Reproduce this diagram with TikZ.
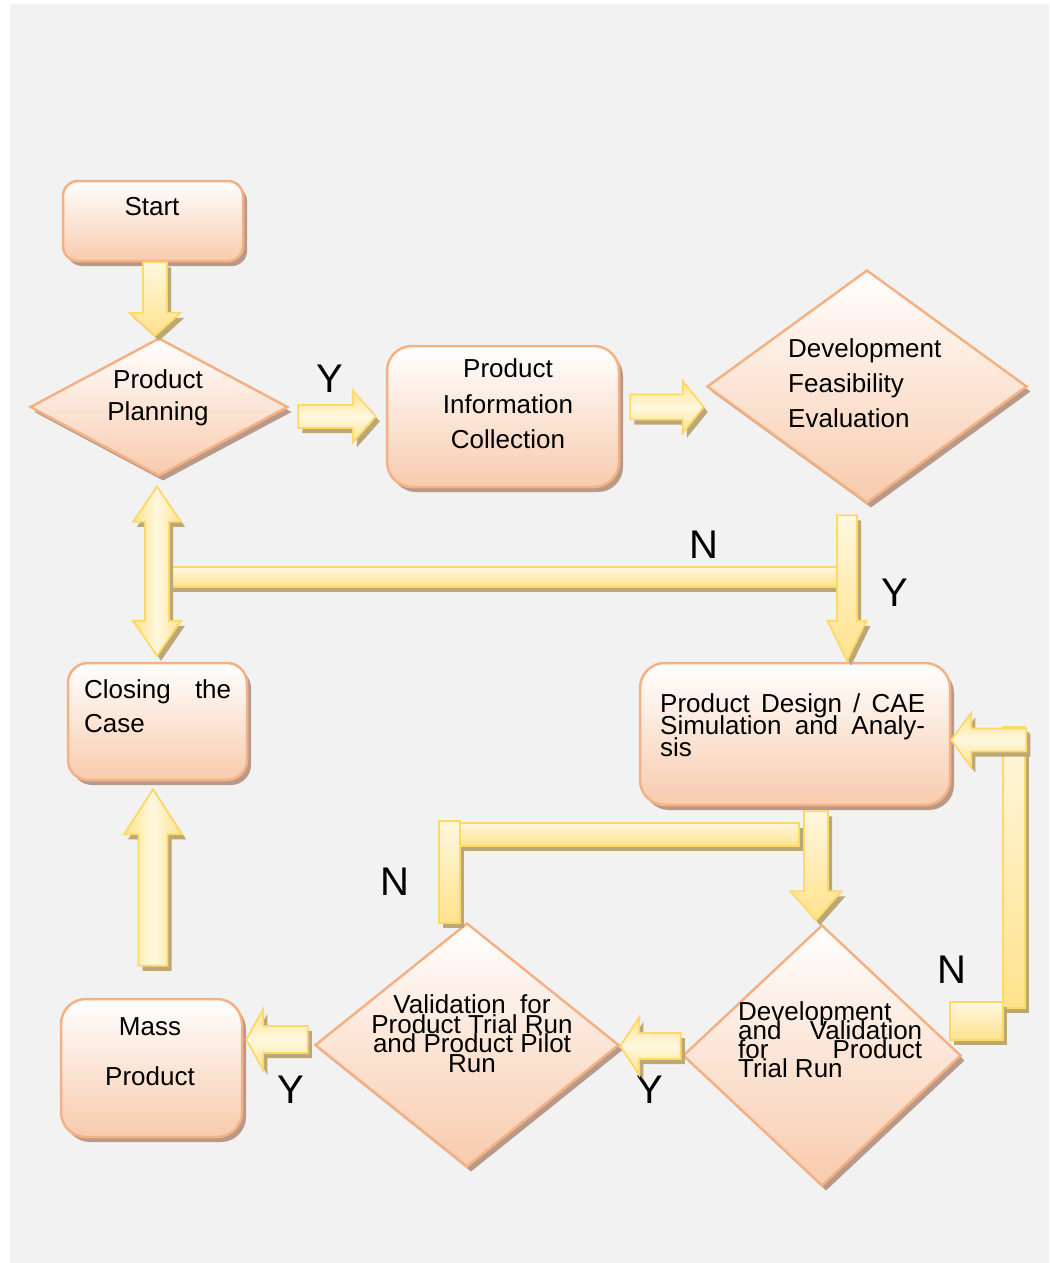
\documentclass[tikz,border=0pt]{standalone}
\usepackage{fontspec}
\setmainfont{Liberation Sans}
\usetikzlibrary{shapes.geometric,shadows,calc}

\definecolor{bgcol}{HTML}{F2F2F2}
\definecolor{boxline}{HTML}{F4B183}
\definecolor{boxlow}{HTML}{F8CBAD}
\definecolor{boxshade}{RGB}{185,154,138}
\definecolor{arrline}{HTML}{FFD966}
\definecolor{arrlow}{HTML}{FFE28C}
\definecolor{arrhigh}{HTML}{FFF8E0}
\definecolor{arrshade}{RGB}{188,168,118}

% font size 26 with a chosen line pitch; lines may overlap
\newcommand\ftsz[1]{\fontsize{26}{#1}\selectfont\lineskiplimit=-100pt\lineskip=0pt}

\tikzset{
  shapeshadow/.style={drop shadow={shadow xshift=4pt,shadow yshift=-5pt,fill=boxshade,opacity=1}},
  box/.style={draw=boxline,line width=2.5pt,top color=white,bottom color=boxlow,
              rounded corners=#1,inner sep=0pt,shapeshadow},
  box/.default=20pt,
  dia/.style={diamond,draw=boxline,line width=2.5pt,top color=white,bottom color=boxlow,
              inner sep=0pt,shapeshadow},
  fat/.style={draw=arrline,line width=1.8pt,line join=miter,
              drop shadow={shadow xshift=4pt,shadow yshift=-5pt,fill=arrshade,opacity=1}},
  vshade/.style={top color=arrhigh,bottom color=arrlow},
  hshade/.style={top color=arrlow,bottom color=arrlow,middle color=arrhigh},
  sshade/.style={left color=arrlow,right color=arrlow,middle color=arrhigh},
  txt/.style={inner sep=0pt,text=black},
  yn/.style={inner sep=0pt,anchor=base,font=\fontsize{40}{40}\selectfont},
}

% block arrows: [style]{tail}{tip}{shaft half width}{head half width}{head length}
\newcommand\fatdown[6][]{%
  \path[fat,vshade,#1] let \p1=(#2), \p2=(#3) in
    (\x2-#4pt,\y1) -- (\x2-#4pt,\y2+#6pt) -- (\x2-#5pt,\y2+#6pt) -- (\p2)
    -- (\x2+#5pt,\y2+#6pt) -- (\x2+#4pt,\y2+#6pt) -- (\x2+#4pt,\y1) -- cycle;}
\newcommand\fatup[6][]{%
  \path[fat,sshade,#1] let \p1=(#2), \p2=(#3) in
    (\x2-#4pt,\y1) -- (\x2-#4pt,\y2-#6pt) -- (\x2-#5pt,\y2-#6pt) -- (\p2)
    -- (\x2+#5pt,\y2-#6pt) -- (\x2+#4pt,\y2-#6pt) -- (\x2+#4pt,\y1) -- cycle;}
\newcommand\fatright[6][]{%
  \path[fat,hshade,#1] let \p1=(#2), \p2=(#3) in
    (\x1,\y2+#4pt) -- (\x2-#6pt,\y2+#4pt) -- (\x2-#6pt,\y2+#5pt) -- (\p2)
    -- (\x2-#6pt,\y2-#5pt) -- (\x2-#6pt,\y2-#4pt) -- (\x1,\y2-#4pt) -- cycle;}
\newcommand\fatleft[6][]{%
  \path[fat,hshade,#1] let \p1=(#2), \p2=(#3) in
    (\x1,\y2+#4pt) -- (\x2+#6pt,\y2+#4pt) -- (\x2+#6pt,\y2+#5pt) -- (\p2)
    -- (\x2+#6pt,\y2-#5pt) -- (\x2+#6pt,\y2-#4pt) -- (\x1,\y2-#4pt) -- cycle;}
% two-headed vertical arrow: {upper tip}{lower tip}{shaft}{head}{head length}
\newcommand\fatboth[6][]{%
  \path[fat,sshade,#1] let \p1=(#2), \p2=(#3) in
    (\p1) -- (\x1+#5pt,\y1-#6pt) -- (\x1+#4pt,\y1-#6pt) -- (\x1+#4pt,\y2+#6pt)
    -- (\x1+#5pt,\y2+#6pt) -- (\x1,\y2) -- (\x1-#5pt,\y2+#6pt) -- (\x1-#4pt,\y2+#6pt)
    -- (\x1-#4pt,\y1-#6pt) -- (\x1-#5pt,\y1-#6pt) -- cycle;}

\begin{document}
\begin{tikzpicture}[x=1pt,y=-1pt]
\useasboundingbox (0,0) rectangle (1049,1263);
\fill[bgcol] (10,4) rectangle (1049,1263);

% process boxes and decisions
\node[box=15pt,minimum width=180pt,minimum height=80pt]  (start)  at (153,221)    {};
\node[dia,minimum width=258pt,minimum height=138pt]       (plan)   at (159,407)    {};
\node[box=25pt,minimum width=232pt,minimum height=141pt] (pic)    at (503,416.5)  {};
\node[dia,minimum width=320pt,minimum height=233pt]       (dfe)    at (867,386.5)  {};
\node[box=25pt,minimum width=310pt,minimum height=142pt] (pd)     at (795,734)    {};
\node[box=20pt,minimum width=179pt,minimum height=117pt] (close)  at (157.5,721.5) {};
\node[dia,minimum width=278pt,minimum height=261pt]       (devval) at (822,1055.5) {};
\node[dia,minimum width=304pt,minimum height=244pt]       (valid)  at (467,1045)   {};
\node[box=25pt,minimum width=181pt,minimum height=138pt] (mass)   at (151.5,1068) {};

% texts
\node[txt,anchor=base,font=\ftsz{31}] (startT) at (152,215) {Start};
\node[txt,anchor=north,align=center,font=\ftsz{32}] (planT) at (158,369.5) {Product\\Planning};
\node[txt,anchor=north,align=center,font=\ftsz{35.5}] (picT) at (508,358.5) {Product\\Information\\Collection};
\node[txt,anchor=north west,align=left,font=\ftsz{35}] (dfeT) at (788,338.5) {Development\\Feasibility\\Evaluation};
\node[txt,anchor=north west,align=left,font=\ftsz{22}] (pdT) at (660,693.5)
  {\makebox[265pt][s]{Product Design / CAE}\\\makebox[265pt][s]{Simulation and Analy-}\\sis};
\node[txt,anchor=north west,align=left,font=\ftsz{34}] (closeT) at (84,679.5)
  {\makebox[147pt][s]{Closing the}\\Case};
\node[txt,anchor=north west,align=left,font=\ftsz{19}] (devvalT) at (738,1001.5)
  {Development\\\makebox[184pt][s]{and Validation}\\\makebox[184pt][s]{for Product}\\Trial Run};
\node[txt,anchor=north,align=center,font=\ftsz{19.5}] (validT) at (472,994.5)
  {Validation\ \ for\\Product Trial Run\\and Product Pilot\\Run};
\node[txt,anchor=north,align=center,font=\ftsz{50}] (massT) at (150,1017.5) {Mass\\Product};

% Y / N labels
\node[yn] (y1) at (330,392)  {Y};
\node[yn] (n1) at (704,558)  {N};
\node[yn] (y2) at (895,606)  {Y};
\node[yn] (n2) at (395,895)  {N};
\node[yn] (n3) at (952,983)  {N};
\node[yn] (y3) at (650,1103) {Y};
\node[yn] (y4) at (291,1103) {Y};

% return bars
\path[fat,vshade] (168,567) rectangle (837,587);
\path[fat,vshade] (1003,727) rectangle (1025,1008);
\path[fat,vshade] (950,1002) rectangle (1003,1040);
\path[fat,vshade] (439,821) rectangle (460,923);
\path[fat,vshade] (460,823) rectangle (799,846);

% block arrows
\fatdown{start.south}{$(plan.north)+(-4,-1)$}{12}{25.5}{23}
\fatright{$(plan.east)+(9,9)$}{$(pic.west)+(-10,0)$}{11.5}{26}{23}
\fatright{$(pic.east)+(10,0)$}{$(dfe.west)+(-2,20.5)$}{12.5}{26}{21}
\fatdown{$(dfe.south)+(-20,11)$}{$(pd.north)+(52,-1)$}{10}{19.5}{40}
\fatboth{$(plan.south)+(-2,9.5)$}{$(close.north)+(-0.5,-6)$}{12}{24}{35}
\fatleft{$(pd.east)+(75,0)$}{$(pd.east)+(0,6)$}{11.5}{27.5}{20}
\fatdown{$(pd.south)+(21,5)$}{$(devval.north)+(-6,-3.5)$}{12}{25.5}{29}
\fatleft{$(devval.west)+(-1,0)$}{$(valid.east)+(0,1)$}{13}{29}{19}
\fatleft{$(valid.west)+(-6,0)$}{$(mass.east)+(3,-28.5)$}{13.5}{30.5}{17}
\fatup{$(mass.north)+(1,-32)$}{$(close.south)+(-4.5,8)$}{14.5}{29}{45}
\end{tikzpicture}
\end{document}
